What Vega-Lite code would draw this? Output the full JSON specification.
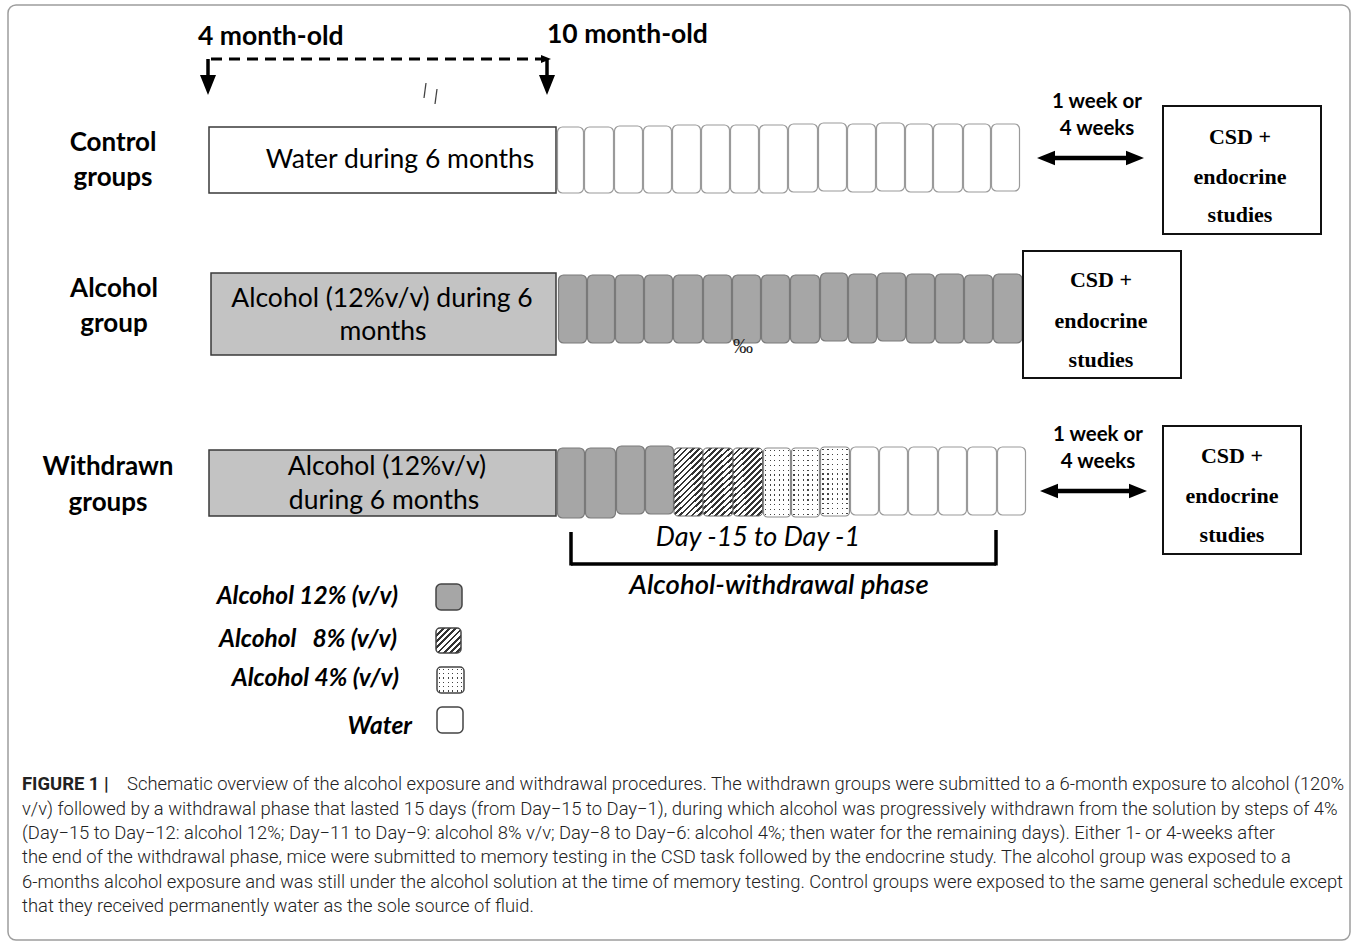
{
"$schema": "https://vega.github.io/schema/vega-lite/v6.json",
"width": 1357, "height": 945,
"autosize": {"type": "fit", "contains": "padding"},
"padding": 0,
"background": "white",
"config": {"view": {"stroke": null}},
"datasets": {
"frame": [{"x1": 8, "x2": 1350, "y1": 5, "y2": 940}],
"periods": [
{"group": "Control", "fluid": "water", "x1": 209, "x2": 556, "y1": 127, "y2": 193},
{"group": "Alcohol", "fluid": "a12", "x1": 211, "x2": 556, "y1": 273, "y2": 355},
{"group": "Withdrawn", "fluid": "a12", "x1": 209, "x2": 556, "y1": 450, "y2": 516}
],
"cells": [
{"group": "Control", "fluid": "water", "x1": 557.5, "x2": 583.5, "y1": 127, "y2": 193},
{"group": "Control", "fluid": "water", "x1": 584.5, "x2": 613.5, "y1": 127, "y2": 193},
{"group": "Control", "fluid": "water", "x1": 614.5, "x2": 642.5, "y1": 126, "y2": 193},
{"group": "Control", "fluid": "water", "x1": 643.5, "x2": 671.5, "y1": 126, "y2": 193},
{"group": "Control", "fluid": "water", "x1": 672.5, "x2": 700.5, "y1": 125, "y2": 193},
{"group": "Control", "fluid": "water", "x1": 701.5, "x2": 729.5, "y1": 125, "y2": 193},
{"group": "Control", "fluid": "water", "x1": 730.5, "x2": 758.5, "y1": 125, "y2": 193},
{"group": "Control", "fluid": "water", "x1": 759.5, "x2": 787.5, "y1": 125, "y2": 193},
{"group": "Control", "fluid": "water", "x1": 788.5, "x2": 817.5, "y1": 124, "y2": 192},
{"group": "Control", "fluid": "water", "x1": 818.5, "x2": 846.5, "y1": 123, "y2": 191},
{"group": "Control", "fluid": "water", "x1": 847.5, "x2": 875.5, "y1": 124, "y2": 192},
{"group": "Control", "fluid": "water", "x1": 876.5, "x2": 904.5, "y1": 123, "y2": 191},
{"group": "Control", "fluid": "water", "x1": 905.5, "x2": 932.5, "y1": 124, "y2": 192},
{"group": "Control", "fluid": "water", "x1": 933.5, "x2": 962.5, "y1": 124, "y2": 192},
{"group": "Control", "fluid": "water", "x1": 963.5, "x2": 990.5, "y1": 124, "y2": 192},
{"group": "Control", "fluid": "water", "x1": 991.5, "x2": 1019.5, "y1": 124, "y2": 191},
{"group": "Alcohol", "fluid": "a12", "x1": 558.5, "x2": 586.5, "y1": 275, "y2": 343},
{"group": "Alcohol", "fluid": "a12", "x1": 587.5, "x2": 614.5, "y1": 275, "y2": 343},
{"group": "Alcohol", "fluid": "a12", "x1": 615.5, "x2": 643.5, "y1": 275, "y2": 343},
{"group": "Alcohol", "fluid": "a12", "x1": 644.5, "x2": 672.5, "y1": 275, "y2": 343},
{"group": "Alcohol", "fluid": "a12", "x1": 673.5, "x2": 702.5, "y1": 275, "y2": 343},
{"group": "Alcohol", "fluid": "a12", "x1": 703.5, "x2": 731.5, "y1": 275, "y2": 343},
{"group": "Alcohol", "fluid": "a12", "x1": 732.5, "x2": 760.5, "y1": 275, "y2": 343},
{"group": "Alcohol", "fluid": "a12", "x1": 761.5, "x2": 789.5, "y1": 275, "y2": 343},
{"group": "Alcohol", "fluid": "a12", "x1": 790.5, "x2": 819.5, "y1": 275, "y2": 343},
{"group": "Alcohol", "fluid": "a12", "x1": 820.5, "x2": 847.5, "y1": 273, "y2": 341},
{"group": "Alcohol", "fluid": "a12", "x1": 848.5, "x2": 876.5, "y1": 274, "y2": 343},
{"group": "Alcohol", "fluid": "a12", "x1": 877.5, "x2": 905.5, "y1": 273, "y2": 341},
{"group": "Alcohol", "fluid": "a12", "x1": 906.5, "x2": 934.5, "y1": 274, "y2": 343},
{"group": "Alcohol", "fluid": "a12", "x1": 935.5, "x2": 963.5, "y1": 274, "y2": 343},
{"group": "Alcohol", "fluid": "a12", "x1": 964.5, "x2": 992.5, "y1": 275, "y2": 343},
{"group": "Alcohol", "fluid": "a12", "x1": 993.5, "x2": 1022, "y1": 274, "y2": 343},
{"group": "Withdrawn", "fluid": "a12", "x1": 557.5, "x2": 584.5, "y1": 448, "y2": 518},
{"group": "Withdrawn", "fluid": "a12", "x1": 585.5, "x2": 615.5, "y1": 448, "y2": 518},
{"group": "Withdrawn", "fluid": "a12", "x1": 616.5, "x2": 644.5, "y1": 446, "y2": 514},
{"group": "Withdrawn", "fluid": "a12", "x1": 645.5, "x2": 673.5, "y1": 446, "y2": 514},
{"group": "Withdrawn", "fluid": "a8", "x1": 674, "x2": 703, "y1": 448, "y2": 516},
{"group": "Withdrawn", "fluid": "a8", "x1": 703, "x2": 733, "y1": 448, "y2": 516},
{"group": "Withdrawn", "fluid": "a8", "x1": 733, "x2": 762.5, "y1": 448, "y2": 516},
{"group": "Withdrawn", "fluid": "a4", "x1": 763.5, "x2": 790.5, "y1": 448, "y2": 517},
{"group": "Withdrawn", "fluid": "a4", "x1": 791.5, "x2": 819.5, "y1": 448, "y2": 517},
{"group": "Withdrawn", "fluid": "a4", "x1": 820.5, "x2": 849.5, "y1": 447, "y2": 516},
{"group": "Withdrawn", "fluid": "water", "x1": 850.5, "x2": 878.5, "y1": 447, "y2": 515},
{"group": "Withdrawn", "fluid": "water", "x1": 879.5, "x2": 907.5, "y1": 447, "y2": 515},
{"group": "Withdrawn", "fluid": "water", "x1": 908.5, "x2": 937.5, "y1": 447, "y2": 515},
{"group": "Withdrawn", "fluid": "water", "x1": 938.5, "x2": 966.5, "y1": 447, "y2": 515},
{"group": "Withdrawn", "fluid": "water", "x1": 967.5, "x2": 996.5, "y1": 447, "y2": 515},
{"group": "Withdrawn", "fluid": "water", "x1": 997.5, "x2": 1025.5, "y1": 447, "y2": 515}
],
"boxes": [
{"group": "Control", "x1": 1163, "x2": 1321, "y1": 106, "y2": 234},
{"group": "Alcohol", "x1": 1023, "x2": 1181, "y1": 251, "y2": 378},
{"group": "Withdrawn", "x1": 1163, "x2": 1301, "y1": 426, "y2": 554}
],
"swatches": [
{"fluid": "a12", "x1": 436, "x2": 462, "y1": 584, "y2": 610},
{"fluid": "a8", "x1": 436, "x2": 461, "y1": 628, "y2": 653},
{"fluid": "a4", "x1": 437, "x2": 464, "y1": 667, "y2": 693},
{"fluid": "water", "x1": 437, "x2": 463, "y1": 707, "y2": 733}
],
"lines": [
{"kind": "dash", "x1": 211, "y1": 59, "x2": 542, "y2": 59},
{"kind": "solid", "x1": 208, "y1": 59, "x2": 208, "y2": 78},
{"kind": "solid", "x1": 547, "y1": 59, "x2": 547, "y2": 78},
{"kind": "double", "x1": 1048, "y1": 158, "x2": 1134, "y2": 158},
{"kind": "double", "x1": 1051, "y1": 491, "x2": 1137, "y2": 491},
{"kind": "solid", "x1": 571, "y1": 532, "x2": 571, "y2": 565.5},
{"kind": "solid", "x1": 571, "y1": 564, "x2": 996, "y2": 564},
{"kind": "solid", "x1": 996, "y1": 530, "x2": 996, "y2": 565.5},
{"kind": "slash", "x1": 426, "y1": 83, "x2": 424, "y2": 98},
{"kind": "slash", "x1": 437, "y1": 89, "x2": 435, "y2": 104}
],
"heads": [
{"kind": "small", "dir": "right", "x": 546, "y": 59},
{"kind": "big", "dir": "down", "x": 208, "y": 85},
{"kind": "big", "dir": "down", "x": 547, "y": 85},
{"kind": "mid", "dir": "left", "x": 1046, "y": 158},
{"kind": "mid", "dir": "right", "x": 1135, "y": 158},
{"kind": "mid", "dir": "left", "x": 1049, "y": 491},
{"kind": "mid", "dir": "right", "x": 1138, "y": 491}
],
"texts": [
{"role": "age", "x": 198, "y": 37, "text": "4 month-old"},
{"role": "age", "x": 547, "y": 35, "text": "10 month-old"},
{"role": "group", "x": 113, "y": 143, "text": "Control"},
{"role": "group", "x": 113, "y": 178, "text": "groups"},
{"role": "group", "x": 114, "y": 289, "text": "Alcohol"},
{"role": "group", "x": 114, "y": 324, "text": "group"},
{"role": "group", "x": 108, "y": 467, "text": "Withdrawn"},
{"role": "group", "x": 108, "y": 503, "text": "groups"},
{"role": "inbox", "x": 400, "y": 160, "text": "Water during 6 months"},
{"role": "inbox", "x": 382, "y": 299, "text": "Alcohol (12%v/v) during 6"},
{"role": "inbox", "x": 383, "y": 332, "text": "months"},
{"role": "inbox", "x": 387, "y": 467, "text": "Alcohol (12%v/v)"},
{"role": "inbox", "x": 384, "y": 501, "text": "during 6 months"},
{"role": "gap", "x": 1097, "y": 102, "text": "1 week or"},
{"role": "gap", "x": 1097, "y": 129, "text": "4 weeks"},
{"role": "gap", "x": 1098, "y": 435, "text": "1 week or"},
{"role": "gap", "x": 1098, "y": 462, "text": "4 weeks"},
{"role": "result", "x": 1240, "y": 137, "text": "CSD +"},
{"role": "result", "x": 1240, "y": 177, "text": "endocrine"},
{"role": "result", "x": 1240, "y": 215, "text": "studies"},
{"role": "result", "x": 1101, "y": 280, "text": "CSD +"},
{"role": "result", "x": 1101, "y": 321, "text": "endocrine"},
{"role": "result", "x": 1101, "y": 360, "text": "studies"},
{"role": "result", "x": 1232, "y": 456, "text": "CSD +"},
{"role": "result", "x": 1232, "y": 496, "text": "endocrine"},
{"role": "result", "x": 1232, "y": 535, "text": "studies"},
{"role": "permille", "x": 743, "y": 347, "text": "‰"},
{"role": "day", "x": 758, "y": 538, "text": "Day -15 to Day -1"},
{"role": "phase", "x": 779, "y": 586, "text": "Alcohol-withdrawal phase"},
{"role": "legend", "x": 398, "y": 597, "text": "Alcohol 12% (v/v)"},
{"role": "legend", "x": 397, "y": 640, "text": "Alcohol\u00a0\u00a0 8% (v/v)"},
{"role": "legend", "x": 399, "y": 679, "text": "Alcohol 4% (v/v)"},
{"role": "legend", "x": 412, "y": 727, "text": "Water"},
{"role": "capb", "x": 22, "y": 784, "text": "FIGURE 1 |"},
{"role": "cap", "x": 127, "y": 784, "text": "Schematic overview of the alcohol exposure and withdrawal procedures. The withdrawn groups were submitted to a 6-month exposure to alcohol (120%"},
{"role": "cap", "x": 22, "y": 809, "text": "v/v) followed by a withdrawal phase that lasted 15 days (from Day−15 to Day−1), during which alcohol was progressively withdrawn from the solution by steps of 4%"},
{"role": "cap", "x": 22, "y": 833, "text": "(Day−15 to Day−12: alcohol 12%; Day−11 to Day−9: alcohol 8% v/v; Day−8 to Day−6: alcohol 4%; then water for the remaining days). Either 1- or 4-weeks after"},
{"role": "cap", "x": 22, "y": 857, "text": "the end of the withdrawal phase, mice were submitted to memory testing in the CSD task followed by the endocrine study. The alcohol group was exposed to a"},
{"role": "cap", "x": 22, "y": 882, "text": "6-months alcohol exposure and was still under the alcohol solution at the time of memory testing. Control groups were exposed to the same general schedule except"},
{"role": "cap", "x": 22, "y": 906, "text": "that they received permanently water as the sole source of fluid."}
]
},
"layer": [
{"data": {"name": "frame"},
 "mark": {"type": "rect", "fill": "transparent", "stroke": "#9d9d9d", "strokeWidth": 1.5, "cornerRadius": 8},
 "encoding": {"x": {"field": "x1", "type": "quantitative", "scale": {"domain": [0, 1357], "nice": false, "zero": false}, "axis": null}, "x2": {"field": "x2"}, "y": {"field": "y1", "type": "quantitative", "scale": {"domain": [0, 945], "nice": false, "zero": false, "reverse": true}, "axis": null}, "y2": {"field": "y2"}}},
{"data": {"name": "periods"},
 "mark": {"type": "rect", "stroke": "#3a3a3a", "strokeWidth": 1.5},
 "encoding": {"x": {"field": "x1", "type": "quantitative", "scale": {"domain": [0, 1357], "nice": false, "zero": false}, "axis": null}, "x2": {"field": "x2"}, "y": {"field": "y1", "type": "quantitative", "scale": {"domain": [0, 945], "nice": false, "zero": false, "reverse": true}, "axis": null}, "y2": {"field": "y2"},
  "fill": {"condition": {"test": "datum.fluid === 'a12'", "value": "#c3c3c3"}, "value": "#ffffff"}}},
{"data": {"name": "cells"}, "transform": [{"filter": "datum.fluid === 'water'"}],
 "mark": {"type": "rect", "fill": "#ffffff", "stroke": "#9a9a9a", "strokeWidth": 1.2, "cornerRadius": 5},
 "encoding": {"x": {"field": "x1", "type": "quantitative", "scale": {"domain": [0, 1357], "nice": false, "zero": false}, "axis": null}, "x2": {"field": "x2"}, "y": {"field": "y1", "type": "quantitative", "scale": {"domain": [0, 945], "nice": false, "zero": false, "reverse": true}, "axis": null}, "y2": {"field": "y2"}}},
{"data": {"name": "cells"}, "transform": [{"filter": "datum.fluid === 'a12'"}],
 "mark": {"type": "rect", "fill": "#a6a6a6", "stroke": "#7a7a7a", "strokeWidth": 1.2, "cornerRadius": 5},
 "encoding": {"x": {"field": "x1", "type": "quantitative", "scale": {"domain": [0, 1357], "nice": false, "zero": false}, "axis": null}, "x2": {"field": "x2"}, "y": {"field": "y1", "type": "quantitative", "scale": {"domain": [0, 945], "nice": false, "zero": false, "reverse": true}, "axis": null}, "y2": {"field": "y2"}}},
{"data": {"name": "cells"}, "transform": [{"filter": "datum.fluid === 'a8'"}],
 "mark": {"type": "rect", "stroke": "#666", "strokeWidth": 1, "cornerRadius": 4,
  "fill": {"gradient": "linear", "x1": 0, "y1": 0, "x2": 0.5, "y2": 1.2, "stops": [
{"offset": 0, "color": "#333"}, {"offset": 0.028, "color": "#333"}, {"offset": 0.028, "color": "#fff"}, {"offset": 0.0625, "color": "#fff"},
{"offset": 0.0625, "color": "#333"}, {"offset": 0.0905, "color": "#333"}, {"offset": 0.0905, "color": "#fff"}, {"offset": 0.125, "color": "#fff"},
{"offset": 0.125, "color": "#333"}, {"offset": 0.153, "color": "#333"}, {"offset": 0.153, "color": "#fff"}, {"offset": 0.1875, "color": "#fff"},
{"offset": 0.1875, "color": "#333"}, {"offset": 0.2155, "color": "#333"}, {"offset": 0.2155, "color": "#fff"}, {"offset": 0.25, "color": "#fff"},
{"offset": 0.25, "color": "#333"}, {"offset": 0.278, "color": "#333"}, {"offset": 0.278, "color": "#fff"}, {"offset": 0.3125, "color": "#fff"},
{"offset": 0.3125, "color": "#333"}, {"offset": 0.3405, "color": "#333"}, {"offset": 0.3405, "color": "#fff"}, {"offset": 0.375, "color": "#fff"},
{"offset": 0.375, "color": "#333"}, {"offset": 0.403, "color": "#333"}, {"offset": 0.403, "color": "#fff"}, {"offset": 0.4375, "color": "#fff"},
{"offset": 0.4375, "color": "#333"}, {"offset": 0.4655, "color": "#333"}, {"offset": 0.4655, "color": "#fff"}, {"offset": 0.5, "color": "#fff"},
{"offset": 0.5, "color": "#333"}, {"offset": 0.528, "color": "#333"}, {"offset": 0.528, "color": "#fff"}, {"offset": 0.5625, "color": "#fff"},
{"offset": 0.5625, "color": "#333"}, {"offset": 0.5905, "color": "#333"}, {"offset": 0.5905, "color": "#fff"}, {"offset": 0.625, "color": "#fff"},
{"offset": 0.625, "color": "#333"}, {"offset": 0.653, "color": "#333"}, {"offset": 0.653, "color": "#fff"}, {"offset": 0.6875, "color": "#fff"},
{"offset": 0.6875, "color": "#333"}, {"offset": 0.7155, "color": "#333"}, {"offset": 0.7155, "color": "#fff"}, {"offset": 0.75, "color": "#fff"},
{"offset": 0.75, "color": "#333"}, {"offset": 0.778, "color": "#333"}, {"offset": 0.778, "color": "#fff"}, {"offset": 0.8125, "color": "#fff"},
{"offset": 0.8125, "color": "#333"}, {"offset": 0.8405, "color": "#333"}, {"offset": 0.8405, "color": "#fff"}, {"offset": 0.875, "color": "#fff"},
{"offset": 0.875, "color": "#333"}, {"offset": 0.903, "color": "#333"}, {"offset": 0.903, "color": "#fff"}, {"offset": 0.9375, "color": "#fff"},
{"offset": 0.9375, "color": "#333"}, {"offset": 0.9655, "color": "#333"}, {"offset": 0.9655, "color": "#fff"}, {"offset": 1, "color": "#fff"}]}},
 "encoding": {"x": {"field": "x1", "type": "quantitative", "scale": {"domain": [0, 1357], "nice": false, "zero": false}, "axis": null}, "x2": {"field": "x2"}, "y": {"field": "y1", "type": "quantitative", "scale": {"domain": [0, 945], "nice": false, "zero": false, "reverse": true}, "axis": null}, "y2": {"field": "y2"}}},
{"data": {"name": "cells"}, "transform": [{"filter": "datum.fluid === 'a4'"}],
 "mark": {"type": "rect", "cornerRadius": 4,
  "fill": {"gradient": "linear", "x1": 0, "y1": 0, "x2": 1, "y2": 0, "stops": [
{"offset": 0, "color": "#fff"}, {"offset": 0.063, "color": "#fff"}, {"offset": 0.063, "color": "#444"}, {"offset": 0.11, "color": "#444"}, {"offset": 0.11, "color": "#fff"},
{"offset": 0.23, "color": "#fff"}, {"offset": 0.23, "color": "#444"}, {"offset": 0.277, "color": "#444"}, {"offset": 0.277, "color": "#fff"},
{"offset": 0.396, "color": "#fff"}, {"offset": 0.396, "color": "#444"}, {"offset": 0.443, "color": "#444"}, {"offset": 0.443, "color": "#fff"},
{"offset": 0.563, "color": "#fff"}, {"offset": 0.563, "color": "#444"}, {"offset": 0.61, "color": "#444"}, {"offset": 0.61, "color": "#fff"},
{"offset": 0.73, "color": "#fff"}, {"offset": 0.73, "color": "#444"}, {"offset": 0.777, "color": "#444"}, {"offset": 0.777, "color": "#fff"},
{"offset": 0.896, "color": "#fff"}, {"offset": 0.896, "color": "#444"}, {"offset": 0.943, "color": "#444"}, {"offset": 0.943, "color": "#fff"}, {"offset": 1, "color": "#fff"}]}},
 "encoding": {"x": {"field": "x1", "type": "quantitative", "scale": {"domain": [0, 1357], "nice": false, "zero": false}, "axis": null}, "x2": {"field": "x2"}, "y": {"field": "y1", "type": "quantitative", "scale": {"domain": [0, 945], "nice": false, "zero": false, "reverse": true}, "axis": null}, "y2": {"field": "y2"}}},
{"data": {"name": "cells"}, "transform": [{"filter": "datum.fluid === 'a4'"}],
 "mark": {"type": "rect", "cornerRadius": 4,
  "fill": {"gradient": "linear", "x1": 0, "y1": 0, "x2": 0, "y2": 1, "stops": [
{"offset": 0, "color": "#fff"}, {"offset": 0.027, "color": "#fff"}, {"offset": 0.027, "color": "rgba(255,255,255,0)"}, {"offset": 0.047, "color": "rgba(255,255,255,0)"}, {"offset": 0.047, "color": "#fff"},
{"offset": 0.098, "color": "#fff"}, {"offset": 0.098, "color": "rgba(255,255,255,0)"}, {"offset": 0.118, "color": "rgba(255,255,255,0)"}, {"offset": 0.118, "color": "#fff"},
{"offset": 0.17, "color": "#fff"}, {"offset": 0.17, "color": "rgba(255,255,255,0)"}, {"offset": 0.19, "color": "rgba(255,255,255,0)"}, {"offset": 0.19, "color": "#fff"},
{"offset": 0.241, "color": "#fff"}, {"offset": 0.241, "color": "rgba(255,255,255,0)"}, {"offset": 0.261, "color": "rgba(255,255,255,0)"}, {"offset": 0.261, "color": "#fff"},
{"offset": 0.313, "color": "#fff"}, {"offset": 0.313, "color": "rgba(255,255,255,0)"}, {"offset": 0.333, "color": "rgba(255,255,255,0)"}, {"offset": 0.333, "color": "#fff"},
{"offset": 0.384, "color": "#fff"}, {"offset": 0.384, "color": "rgba(255,255,255,0)"}, {"offset": 0.404, "color": "rgba(255,255,255,0)"}, {"offset": 0.404, "color": "#fff"},
{"offset": 0.456, "color": "#fff"}, {"offset": 0.456, "color": "rgba(255,255,255,0)"}, {"offset": 0.476, "color": "rgba(255,255,255,0)"}, {"offset": 0.476, "color": "#fff"},
{"offset": 0.527, "color": "#fff"}, {"offset": 0.527, "color": "rgba(255,255,255,0)"}, {"offset": 0.547, "color": "rgba(255,255,255,0)"}, {"offset": 0.547, "color": "#fff"},
{"offset": 0.598, "color": "#fff"}, {"offset": 0.598, "color": "rgba(255,255,255,0)"}, {"offset": 0.618, "color": "rgba(255,255,255,0)"}, {"offset": 0.618, "color": "#fff"},
{"offset": 0.67, "color": "#fff"}, {"offset": 0.67, "color": "rgba(255,255,255,0)"}, {"offset": 0.69, "color": "rgba(255,255,255,0)"}, {"offset": 0.69, "color": "#fff"},
{"offset": 0.741, "color": "#fff"}, {"offset": 0.741, "color": "rgba(255,255,255,0)"}, {"offset": 0.761, "color": "rgba(255,255,255,0)"}, {"offset": 0.761, "color": "#fff"},
{"offset": 0.813, "color": "#fff"}, {"offset": 0.813, "color": "rgba(255,255,255,0)"}, {"offset": 0.833, "color": "rgba(255,255,255,0)"}, {"offset": 0.833, "color": "#fff"},
{"offset": 0.884, "color": "#fff"}, {"offset": 0.884, "color": "rgba(255,255,255,0)"}, {"offset": 0.904, "color": "rgba(255,255,255,0)"}, {"offset": 0.904, "color": "#fff"},
{"offset": 0.956, "color": "#fff"}, {"offset": 0.956, "color": "rgba(255,255,255,0)"}, {"offset": 0.976, "color": "rgba(255,255,255,0)"}, {"offset": 0.976, "color": "#fff"}, {"offset": 1, "color": "#fff"}]}},
 "encoding": {"x": {"field": "x1", "type": "quantitative", "scale": {"domain": [0, 1357], "nice": false, "zero": false}, "axis": null}, "x2": {"field": "x2"}, "y": {"field": "y1", "type": "quantitative", "scale": {"domain": [0, 945], "nice": false, "zero": false, "reverse": true}, "axis": null}, "y2": {"field": "y2"}}},
{"data": {"name": "cells"}, "transform": [{"filter": "datum.fluid === 'a4'"}],
 "mark": {"type": "rect", "fill": "transparent", "stroke": "#8a8a8a", "strokeWidth": 1.2, "cornerRadius": 4},
 "encoding": {"x": {"field": "x1", "type": "quantitative", "scale": {"domain": [0, 1357], "nice": false, "zero": false}, "axis": null}, "x2": {"field": "x2"}, "y": {"field": "y1", "type": "quantitative", "scale": {"domain": [0, 945], "nice": false, "zero": false, "reverse": true}, "axis": null}, "y2": {"field": "y2"}}},
{"data": {"name": "boxes"},
 "mark": {"type": "rect", "fill": "#ffffff", "stroke": "#111", "strokeWidth": 2},
 "encoding": {"x": {"field": "x1", "type": "quantitative", "scale": {"domain": [0, 1357], "nice": false, "zero": false}, "axis": null}, "x2": {"field": "x2"}, "y": {"field": "y1", "type": "quantitative", "scale": {"domain": [0, 945], "nice": false, "zero": false, "reverse": true}, "axis": null}, "y2": {"field": "y2"}}},
{"data": {"name": "swatches"}, "transform": [{"filter": "datum.fluid === 'a12' || datum.fluid === 'water'"}],
 "mark": {"type": "rect", "stroke": "#444", "strokeWidth": 1.5, "cornerRadius": 5},
 "encoding": {"x": {"field": "x1", "type": "quantitative", "scale": {"domain": [0, 1357], "nice": false, "zero": false}, "axis": null}, "x2": {"field": "x2"}, "y": {"field": "y1", "type": "quantitative", "scale": {"domain": [0, 945], "nice": false, "zero": false, "reverse": true}, "axis": null}, "y2": {"field": "y2"},
  "fill": {"condition": {"test": "datum.fluid === 'a12'", "value": "#a6a6a6"}, "value": "#ffffff"}}},
{"data": {"name": "swatches"}, "transform": [{"filter": "datum.fluid === 'a8'"}],
 "mark": {"type": "rect", "stroke": "#444", "strokeWidth": 1.5, "cornerRadius": 4,
  "fill": {"gradient": "linear", "x1": 0, "y1": 0, "x2": 1, "y2": 1, "stops": [
{"offset": 0, "color": "#333"}, {"offset": 0.055, "color": "#333"}, {"offset": 0.055, "color": "#fff"}, {"offset": 0.125, "color": "#fff"},
{"offset": 0.125, "color": "#333"}, {"offset": 0.18, "color": "#333"}, {"offset": 0.18, "color": "#fff"}, {"offset": 0.25, "color": "#fff"},
{"offset": 0.25, "color": "#333"}, {"offset": 0.305, "color": "#333"}, {"offset": 0.305, "color": "#fff"}, {"offset": 0.375, "color": "#fff"},
{"offset": 0.375, "color": "#333"}, {"offset": 0.43, "color": "#333"}, {"offset": 0.43, "color": "#fff"}, {"offset": 0.5, "color": "#fff"},
{"offset": 0.5, "color": "#333"}, {"offset": 0.555, "color": "#333"}, {"offset": 0.555, "color": "#fff"}, {"offset": 0.625, "color": "#fff"},
{"offset": 0.625, "color": "#333"}, {"offset": 0.68, "color": "#333"}, {"offset": 0.68, "color": "#fff"}, {"offset": 0.75, "color": "#fff"},
{"offset": 0.75, "color": "#333"}, {"offset": 0.805, "color": "#333"}, {"offset": 0.805, "color": "#fff"}, {"offset": 0.875, "color": "#fff"},
{"offset": 0.875, "color": "#333"}, {"offset": 0.93, "color": "#333"}, {"offset": 0.93, "color": "#fff"}, {"offset": 1, "color": "#fff"}]}},
 "encoding": {"x": {"field": "x1", "type": "quantitative", "scale": {"domain": [0, 1357], "nice": false, "zero": false}, "axis": null}, "x2": {"field": "x2"}, "y": {"field": "y1", "type": "quantitative", "scale": {"domain": [0, 945], "nice": false, "zero": false, "reverse": true}, "axis": null}, "y2": {"field": "y2"}}},
{"data": {"name": "swatches"}, "transform": [{"filter": "datum.fluid === 'a4'"}],
 "mark": {"type": "rect", "cornerRadius": 4,
  "fill": {"gradient": "linear", "x1": 0, "y1": 0, "x2": 1, "y2": 0, "stops": [
{"offset": 0, "color": "#fff"}, {"offset": 0.063, "color": "#fff"}, {"offset": 0.063, "color": "#444"}, {"offset": 0.11, "color": "#444"}, {"offset": 0.11, "color": "#fff"},
{"offset": 0.23, "color": "#fff"}, {"offset": 0.23, "color": "#444"}, {"offset": 0.277, "color": "#444"}, {"offset": 0.277, "color": "#fff"},
{"offset": 0.396, "color": "#fff"}, {"offset": 0.396, "color": "#444"}, {"offset": 0.443, "color": "#444"}, {"offset": 0.443, "color": "#fff"},
{"offset": 0.563, "color": "#fff"}, {"offset": 0.563, "color": "#444"}, {"offset": 0.61, "color": "#444"}, {"offset": 0.61, "color": "#fff"},
{"offset": 0.73, "color": "#fff"}, {"offset": 0.73, "color": "#444"}, {"offset": 0.777, "color": "#444"}, {"offset": 0.777, "color": "#fff"},
{"offset": 0.896, "color": "#fff"}, {"offset": 0.896, "color": "#444"}, {"offset": 0.943, "color": "#444"}, {"offset": 0.943, "color": "#fff"}, {"offset": 1, "color": "#fff"}]}},
 "encoding": {"x": {"field": "x1", "type": "quantitative", "scale": {"domain": [0, 1357], "nice": false, "zero": false}, "axis": null}, "x2": {"field": "x2"}, "y": {"field": "y1", "type": "quantitative", "scale": {"domain": [0, 945], "nice": false, "zero": false, "reverse": true}, "axis": null}, "y2": {"field": "y2"}}},
{"data": {"name": "swatches"}, "transform": [{"filter": "datum.fluid === 'a4'"}],
 "mark": {"type": "rect", "cornerRadius": 4,
  "fill": {"gradient": "linear", "x1": 0, "y1": 0, "x2": 0, "y2": 1, "stops": [
{"offset": 0, "color": "#fff"}, {"offset": 0.063, "color": "#fff"}, {"offset": 0.063, "color": "rgba(255,255,255,0)"}, {"offset": 0.11, "color": "rgba(255,255,255,0)"}, {"offset": 0.11, "color": "#fff"},
{"offset": 0.23, "color": "#fff"}, {"offset": 0.23, "color": "rgba(255,255,255,0)"}, {"offset": 0.277, "color": "rgba(255,255,255,0)"}, {"offset": 0.277, "color": "#fff"},
{"offset": 0.396, "color": "#fff"}, {"offset": 0.396, "color": "rgba(255,255,255,0)"}, {"offset": 0.443, "color": "rgba(255,255,255,0)"}, {"offset": 0.443, "color": "#fff"},
{"offset": 0.563, "color": "#fff"}, {"offset": 0.563, "color": "rgba(255,255,255,0)"}, {"offset": 0.61, "color": "rgba(255,255,255,0)"}, {"offset": 0.61, "color": "#fff"},
{"offset": 0.73, "color": "#fff"}, {"offset": 0.73, "color": "rgba(255,255,255,0)"}, {"offset": 0.777, "color": "rgba(255,255,255,0)"}, {"offset": 0.777, "color": "#fff"},
{"offset": 0.896, "color": "#fff"}, {"offset": 0.896, "color": "rgba(255,255,255,0)"}, {"offset": 0.943, "color": "rgba(255,255,255,0)"}, {"offset": 0.943, "color": "#fff"}, {"offset": 1, "color": "#fff"}]}},
 "encoding": {"x": {"field": "x1", "type": "quantitative", "scale": {"domain": [0, 1357], "nice": false, "zero": false}, "axis": null}, "x2": {"field": "x2"}, "y": {"field": "y1", "type": "quantitative", "scale": {"domain": [0, 945], "nice": false, "zero": false, "reverse": true}, "axis": null}, "y2": {"field": "y2"}}},
{"data": {"name": "swatches"}, "transform": [{"filter": "datum.fluid === 'a4'"}],
 "mark": {"type": "rect", "fill": "transparent", "stroke": "#444", "strokeWidth": 1.5, "cornerRadius": 4},
 "encoding": {"x": {"field": "x1", "type": "quantitative", "scale": {"domain": [0, 1357], "nice": false, "zero": false}, "axis": null}, "x2": {"field": "x2"}, "y": {"field": "y1", "type": "quantitative", "scale": {"domain": [0, 945], "nice": false, "zero": false, "reverse": true}, "axis": null}, "y2": {"field": "y2"}}},
{"data": {"name": "lines"}, "transform": [{"filter": "datum.kind === 'dash'"}],
 "mark": {"type": "rule", "color": "#000", "strokeWidth": 3, "strokeDash": [11, 7]},
 "encoding": {"x": {"field": "x1", "type": "quantitative", "scale": {"domain": [0, 1357], "nice": false, "zero": false}, "axis": null}, "x2": {"field": "x2"}, "y": {"field": "y1", "type": "quantitative", "scale": {"domain": [0, 945], "nice": false, "zero": false, "reverse": true}, "axis": null}, "y2": {"field": "y2"}}},
{"data": {"name": "lines"}, "transform": [{"filter": "datum.kind === 'solid'"}],
 "mark": {"type": "rule", "color": "#000", "strokeWidth": 3.5},
 "encoding": {"x": {"field": "x1", "type": "quantitative", "scale": {"domain": [0, 1357], "nice": false, "zero": false}, "axis": null}, "x2": {"field": "x2"}, "y": {"field": "y1", "type": "quantitative", "scale": {"domain": [0, 945], "nice": false, "zero": false, "reverse": true}, "axis": null}, "y2": {"field": "y2"}}},
{"data": {"name": "lines"}, "transform": [{"filter": "datum.kind === 'double'"}],
 "mark": {"type": "rule", "color": "#000", "strokeWidth": 4.5},
 "encoding": {"x": {"field": "x1", "type": "quantitative", "scale": {"domain": [0, 1357], "nice": false, "zero": false}, "axis": null}, "x2": {"field": "x2"}, "y": {"field": "y1", "type": "quantitative", "scale": {"domain": [0, 945], "nice": false, "zero": false, "reverse": true}, "axis": null}, "y2": {"field": "y2"}}},
{"data": {"name": "lines"}, "transform": [{"filter": "datum.kind === 'slash'"}],
 "mark": {"type": "rule", "color": "#444", "strokeWidth": 1.3},
 "encoding": {"x": {"field": "x1", "type": "quantitative", "scale": {"domain": [0, 1357], "nice": false, "zero": false}, "axis": null}, "x2": {"field": "x2"}, "y": {"field": "y1", "type": "quantitative", "scale": {"domain": [0, 945], "nice": false, "zero": false, "reverse": true}, "axis": null}, "y2": {"field": "y2"}}},
{"data": {"name": "heads"}, "transform": [{"filter": "datum.kind === 'small'"}],
 "mark": {"type": "point", "filled": true, "color": "#000", "opacity": 1, "size": 100, "strokeWidth": 0},
 "encoding": {"x": {"field": "x", "type": "quantitative", "scale": {"domain": [0, 1357], "nice": false, "zero": false}, "axis": null}, "y": {"field": "y", "type": "quantitative", "scale": {"domain": [0, 945], "nice": false, "zero": false, "reverse": true}, "axis": null},
  "shape": {"field": "dir", "type": "nominal", "scale": {"domain": ["down", "right", "left"], "range": ["M-0.8,-1L0.8,-1L0,1Z", "M-1,-0.8L1,0L-1,0.8Z", "M1,-0.8L-1,0L1,0.8Z"]}, "legend": null}}},
{"data": {"name": "heads"}, "transform": [{"filter": "datum.kind === 'big'"}],
 "mark": {"type": "point", "filled": true, "color": "#000", "opacity": 1, "size": 400, "strokeWidth": 0},
 "encoding": {"x": {"field": "x", "type": "quantitative", "scale": {"domain": [0, 1357], "nice": false, "zero": false}, "axis": null}, "y": {"field": "y", "type": "quantitative", "scale": {"domain": [0, 945], "nice": false, "zero": false, "reverse": true}, "axis": null},
  "shape": {"field": "dir", "type": "nominal", "scale": {"domain": ["down", "right", "left"], "range": ["M-0.8,-1L0.8,-1L0,1Z", "M-1,-0.8L1,0L-1,0.8Z", "M1,-0.8L-1,0L1,0.8Z"]}, "legend": null}}},
{"data": {"name": "heads"}, "transform": [{"filter": "datum.kind === 'mid'"}],
 "mark": {"type": "point", "filled": true, "color": "#000", "opacity": 1, "size": 324, "strokeWidth": 0},
 "encoding": {"x": {"field": "x", "type": "quantitative", "scale": {"domain": [0, 1357], "nice": false, "zero": false}, "axis": null}, "y": {"field": "y", "type": "quantitative", "scale": {"domain": [0, 945], "nice": false, "zero": false, "reverse": true}, "axis": null},
  "shape": {"field": "dir", "type": "nominal", "scale": {"domain": ["down", "right", "left"], "range": ["M-0.8,-1L0.8,-1L0,1Z", "M-1,-0.8L1,0L-1,0.8Z", "M1,-0.8L-1,0L1,0.8Z"]}, "legend": null}}},
{"data": {"name": "texts"}, "transform": [{"filter": "datum.role === 'age'"}],
 "mark": {"type": "text", "font": "Lato", "fontSize": 26.5, "fontWeight": "bold", "align": "left", "baseline": "middle", "color": "#000"},
 "encoding": {"x": {"field": "x", "type": "quantitative", "scale": {"domain": [0, 1357], "nice": false, "zero": false}, "axis": null}, "y": {"field": "y", "type": "quantitative", "scale": {"domain": [0, 945], "nice": false, "zero": false, "reverse": true}, "axis": null}, "text": {"field": "text"}}},
{"data": {"name": "texts"}, "transform": [{"filter": "datum.role === 'group'"}],
 "mark": {"type": "text", "font": "Lato", "fontSize": 26, "fontWeight": "bold", "align": "center", "baseline": "middle", "color": "#000"},
 "encoding": {"x": {"field": "x", "type": "quantitative", "scale": {"domain": [0, 1357], "nice": false, "zero": false}, "axis": null}, "y": {"field": "y", "type": "quantitative", "scale": {"domain": [0, 945], "nice": false, "zero": false, "reverse": true}, "axis": null}, "text": {"field": "text"}}},
{"data": {"name": "texts"}, "transform": [{"filter": "datum.role === 'inbox'"}],
 "mark": {"type": "text", "font": "Lato", "fontSize": 26.5, "align": "center", "baseline": "middle", "color": "#000"},
 "encoding": {"x": {"field": "x", "type": "quantitative", "scale": {"domain": [0, 1357], "nice": false, "zero": false}, "axis": null}, "y": {"field": "y", "type": "quantitative", "scale": {"domain": [0, 945], "nice": false, "zero": false, "reverse": true}, "axis": null}, "text": {"field": "text"}}},
{"data": {"name": "texts"}, "transform": [{"filter": "datum.role === 'gap'"}],
 "mark": {"type": "text", "font": "Lato", "fontSize": 20.5, "fontWeight": "bold", "align": "center", "baseline": "middle", "color": "#000"},
 "encoding": {"x": {"field": "x", "type": "quantitative", "scale": {"domain": [0, 1357], "nice": false, "zero": false}, "axis": null}, "y": {"field": "y", "type": "quantitative", "scale": {"domain": [0, 945], "nice": false, "zero": false, "reverse": true}, "axis": null}, "text": {"field": "text"}}},
{"data": {"name": "texts"}, "transform": [{"filter": "datum.role === 'result'"}],
 "mark": {"type": "text", "font": "Liberation Serif", "fontSize": 22, "fontWeight": "bold", "align": "center", "baseline": "middle", "color": "#000"},
 "encoding": {"x": {"field": "x", "type": "quantitative", "scale": {"domain": [0, 1357], "nice": false, "zero": false}, "axis": null}, "y": {"field": "y", "type": "quantitative", "scale": {"domain": [0, 945], "nice": false, "zero": false, "reverse": true}, "axis": null}, "text": {"field": "text"}}},
{"data": {"name": "texts"}, "transform": [{"filter": "datum.role === 'permille'"}],
 "mark": {"type": "text", "font": "Liberation Serif", "fontSize": 20, "align": "center", "baseline": "middle", "color": "#222"},
 "encoding": {"x": {"field": "x", "type": "quantitative", "scale": {"domain": [0, 1357], "nice": false, "zero": false}, "axis": null}, "y": {"field": "y", "type": "quantitative", "scale": {"domain": [0, 945], "nice": false, "zero": false, "reverse": true}, "axis": null}, "text": {"field": "text"}}},
{"data": {"name": "texts"}, "transform": [{"filter": "datum.role === 'day'"}],
 "mark": {"type": "text", "font": "Lato", "fontSize": 27, "fontStyle": "italic", "align": "center", "baseline": "middle", "color": "#000"},
 "encoding": {"x": {"field": "x", "type": "quantitative", "scale": {"domain": [0, 1357], "nice": false, "zero": false}, "axis": null}, "y": {"field": "y", "type": "quantitative", "scale": {"domain": [0, 945], "nice": false, "zero": false, "reverse": true}, "axis": null}, "text": {"field": "text"}}},
{"data": {"name": "texts"}, "transform": [{"filter": "datum.role === 'phase'"}],
 "mark": {"type": "text", "font": "Lato", "fontSize": 27.5, "fontStyle": "italic", "fontWeight": 600, "align": "center", "baseline": "middle", "color": "#000"},
 "encoding": {"x": {"field": "x", "type": "quantitative", "scale": {"domain": [0, 1357], "nice": false, "zero": false}, "axis": null}, "y": {"field": "y", "type": "quantitative", "scale": {"domain": [0, 945], "nice": false, "zero": false, "reverse": true}, "axis": null}, "text": {"field": "text"}}},
{"data": {"name": "texts"}, "transform": [{"filter": "datum.role === 'legend'"}],
 "mark": {"type": "text", "font": "Lato", "fontSize": 24.5, "fontStyle": "italic", "fontWeight": "bold", "align": "right", "baseline": "middle", "color": "#000"},
 "encoding": {"x": {"field": "x", "type": "quantitative", "scale": {"domain": [0, 1357], "nice": false, "zero": false}, "axis": null}, "y": {"field": "y", "type": "quantitative", "scale": {"domain": [0, 945], "nice": false, "zero": false, "reverse": true}, "axis": null}, "text": {"field": "text"}}},
{"data": {"name": "texts"}, "transform": [{"filter": "datum.role === 'capb'"}],
 "mark": {"type": "text", "font": "Roboto", "fontSize": 18.4, "fontWeight": "bold", "align": "left", "baseline": "middle", "color": "#222"},
 "encoding": {"x": {"field": "x", "type": "quantitative", "scale": {"domain": [0, 1357], "nice": false, "zero": false}, "axis": null}, "y": {"field": "y", "type": "quantitative", "scale": {"domain": [0, 945], "nice": false, "zero": false, "reverse": true}, "axis": null}, "text": {"field": "text"}}},
{"data": {"name": "texts"}, "transform": [{"filter": "datum.role === 'cap'"}],
 "mark": {"type": "text", "font": "Roboto", "fontSize": 18.4, "fontWeight": 300, "align": "left", "baseline": "middle", "color": "#222"},
 "encoding": {"x": {"field": "x", "type": "quantitative", "scale": {"domain": [0, 1357], "nice": false, "zero": false}, "axis": null}, "y": {"field": "y", "type": "quantitative", "scale": {"domain": [0, 945], "nice": false, "zero": false, "reverse": true}, "axis": null}, "text": {"field": "text"}}}
]
}
